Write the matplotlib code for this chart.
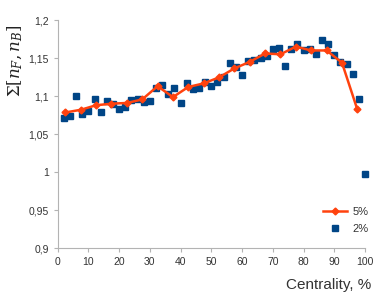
import matplotlib
matplotlib.use("Agg")
import matplotlib.pyplot as plt
from matplotlib.ticker import FuncFormatter, MultipleLocator

# 5% bins
x5 = [2.5, 7.5, 12.5, 17.5, 22.5, 27.5, 32.5, 37.5, 42.5, 47.5,
      52.5, 57.5, 62.5, 67.5, 72.5, 77.5, 82.5, 87.5, 92.5, 97.5]
y5 = [1.0785, 1.082, 1.088, 1.090, 1.091, 1.0956, 1.113, 1.0987, 1.112, 1.1167,
      1.1246, 1.1364, 1.145, 1.156, 1.155, 1.165, 1.160, 1.160, 1.144, 1.0825]

# 2% bins
x2 = list(range(2, 101, 2))
y2 = [1.0706, 1.074, 1.0996, 1.0763, 1.081, 1.0965, 1.0785, 1.0934, 1.089, 1.0833,
      1.086, 1.0947, 1.0956, 1.0917, 1.0934, 1.111, 1.1145, 1.1026, 1.1101, 1.0904,
      1.1167, 1.1088, 1.110, 1.1188, 1.1132, 1.1188, 1.1254, 1.1439, 1.1386, 1.1272,
      1.1456, 1.147, 1.1496, 1.153, 1.162, 1.163, 1.139, 1.162, 1.169, 1.160,
      1.162, 1.155, 1.1737, 1.169, 1.1535, 1.145, 1.1417, 1.129, 1.096, 0.998]

plt.rcParams['font.family'] = ['Liberation Sans', 'DejaVu Sans']
plt.rcParams['mathtext.fontset'] = 'dejavuserif'

fig = plt.figure(figsize=(3.82, 2.93), dpi=100)
ax = fig.add_axes([0.151, 0.1526, 0.8045, 0.7791])

ax.plot(x5, y5, color='#ff420e', lw=1.8, marker='D', ms=3.5, label='5%', zorder=3)
ax.plot(x2, y2, ls='none', color='#004586', marker='s', ms=5, label='2%', zorder=2,
        clip_on=False)

ax.set_xlim(0, 100)
ax.set_ylim(0.9, 1.2)
ax.xaxis.set_major_locator(MultipleLocator(10))
ax.yaxis.set_major_locator(MultipleLocator(0.05))
ax.yaxis.set_major_formatter(FuncFormatter(lambda v, p: ('%g' % round(v, 3)).replace('.', ',')))

for s in ['top', 'right']:
    ax.spines[s].set_visible(False)
for s in ['left', 'bottom']:
    ax.spines[s].set_color('#b3b3b3')
ax.tick_params(colors='#b3b3b3', labelcolor='#333333', labelsize=7.5, length=3, width=0.8)

ax.set_xlabel('Centrality, %', fontsize=11, color='#333333')
ax.xaxis.set_label_coords(1.02, -0.13, transform=ax.transAxes)
ax.xaxis.label.set_horizontalalignment('right')
ax.set_ylabel(r'$\Sigma\left[n_F, n_B\right]$', fontsize=12, color='#222222')
ax.yaxis.set_label_coords(-0.105, 0.82)

ax.legend(loc='lower right', bbox_to_anchor=(1.045, 0.02), frameon=False, fontsize=8,
          handlelength=2.2, handletextpad=0.5, labelspacing=0.6, labelcolor='#333333')

fig.savefig('out.png', dpi=100)
